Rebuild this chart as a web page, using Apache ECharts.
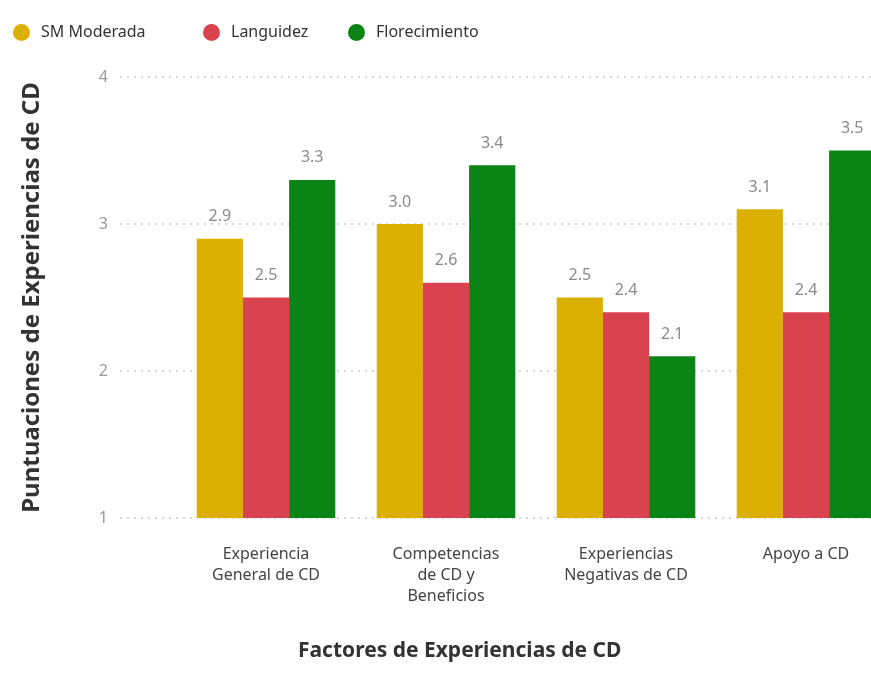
<!DOCTYPE html>
<html>
<head>
<meta charset="utf-8">
<script src="https://cdn.jsdelivr.net/npm/echarts@6/dist/echarts.min.js"></script>
<style>
  html, body { margin: 0; padding: 0; background: #fff; }
  #main { width: 871px; height: 679px; }
</style>
</head>
<body>
<div id="main"></div>
<script>
const categories = [
  'Experiencia\nGeneral de CD',
  'Competencias\nde CD y\nBeneficios',
  'Experiencias\nNegativas de CD',
  'Apoyo a CD'
]
const moderada = [2.9, 3.0, 2.5, 3.1]
const languidez = [2.5, 2.6, 2.4, 2.4]
const florecimiento = [3.3, 3.4, 2.1, 3.5]
const yTicks = [1, 4, 1] // min, max, interval

const font = 'Noto Sans'
const chart = echarts.init(document.getElementById('main'))

// etiqueta de valor encima de cada barra
const valueLabel = {
  show: true,
  position: 'top',
  distance: 14,
  color: '#8a8a8a',
  fontSize: 16,
  fontFamily: font,
  formatter: p => p.value.toFixed(1)
}

function legendAt (name, left) {
  return {
    data: [name],
    left: left,
    top: 19,
    icon: 'circle',
    itemWidth: 17,
    itemHeight: 17,
    selectedMode: false,
    textStyle: { fontSize: 16, color: '#333', fontFamily: font, padding: [0, 0, 0, 6] }
  }
}

const option = {
  backgroundColor: '#fff',
  color: ['#dcb000', '#d9434f', '#0b8416'],
  legend: [
    legendAt('SM Moderada', 8),
    legendAt('Languidez', 198),
    legendAt('Florecimiento', 343)
  ],
  grid: [
    { left: 176, width: 720, top: 77, bottom: 161, outerBoundsMode: 'none' },
    // solo para las líneas punteadas y etiquetas del eje Y
    { left: 120, right: 0, top: 77, bottom: 161, outerBoundsMode: 'none' }
  ],
  xAxis: [
    {
      type: 'category',
      gridIndex: 0,
      data: categories,
      axisLine: { show: false },
      axisTick: { show: false },
      axisLabel: {
        color: '#444',
        fontSize: 16,
        fontFamily: font,
        lineHeight: 21,
        margin: 26
      }
    },
    { type: 'value', gridIndex: 1, show: false, min: 0, max: 1 }
  ],
  yAxis: [
    { type: 'value', gridIndex: 0, min: yTicks[0], max: yTicks[1], interval: yTicks[2], show: false },
    {
      type: 'value',
      gridIndex: 1,
      min: yTicks[0],
      max: yTicks[1],
      interval: yTicks[2],
      name: 'Puntuaciones de Experiencias de CD',
      nameLocation: 'middle',
      nameGap: 76,
      nameTextStyle: { fontSize: 24, fontWeight: 'bold', color: '#333', fontFamily: font },
      axisLine: { show: false },
      axisTick: { show: false },
      axisLabel: { color: '#999', fontSize: 16, fontFamily: font, margin: 12 },
      splitLine: { lineStyle: { color: '#c8c8c8', type: [2, 5], width: 1.5 } }
    }
  ],
  graphic: [
    {
      type: 'text',
      left: 298,
      top: 641,
      style: {
        text: 'Factores de Experiencias de CD',
        fontSize: 21,
        fontWeight: 'bold',
        fill: '#333',
        fontFamily: font
      }
    }
  ],
  series: [
    { name: 'SM Moderada', type: 'bar', data: moderada, barGap: '0%', barCategoryGap: '23%', label: valueLabel },
    { name: 'Languidez', type: 'bar', data: languidez, label: valueLabel },
    { name: 'Florecimiento', type: 'bar', data: florecimiento, label: valueLabel }
  ]
}

chart.setOption(option)
</script>
</body>
</html>
